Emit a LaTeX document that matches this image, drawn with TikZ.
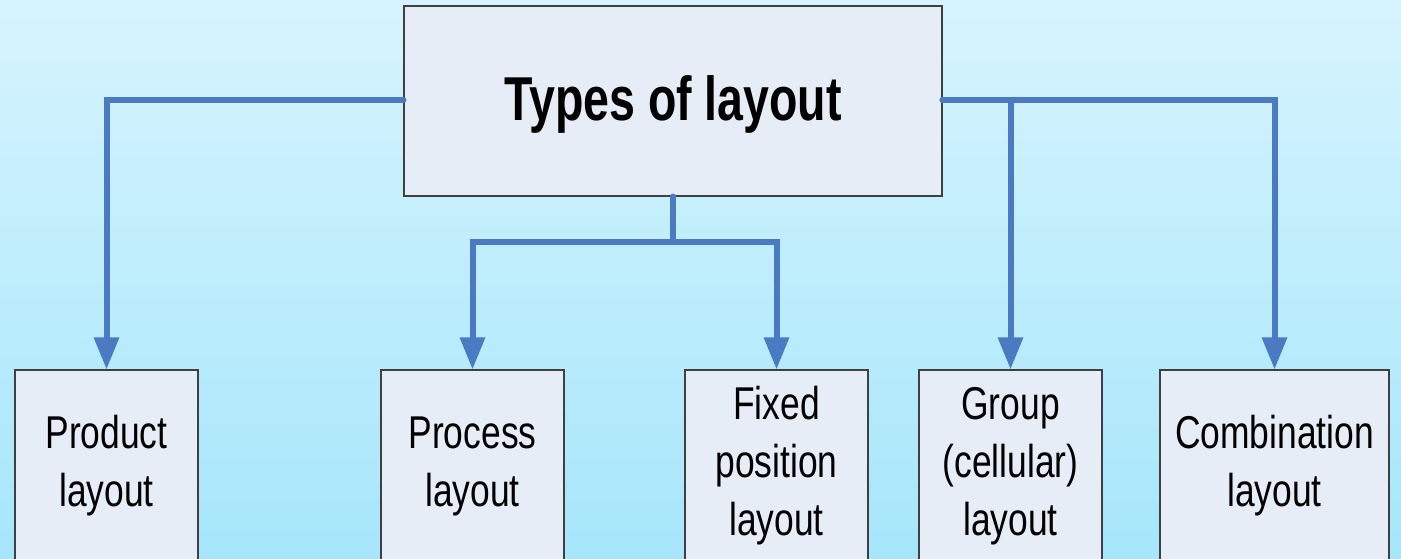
\documentclass[tikz,border=0pt]{standalone}
\usepackage{fontspec}
\usetikzlibrary{arrows.meta}
\newfontfamily\boxfont[FakeStretch=0.77]{Liberation Sans}
\newfontfamily\headfont[FakeStretch=0.75]{Liberation Sans Bold}
\definecolor{bgtop}{RGB}{214,244,253}
\definecolor{bgbot}{RGB}{166,230,251}
\definecolor{boxfill}{RGB}{231,237,247}
\definecolor{boxline}{RGB}{64,64,64}
\definecolor{linkblue}{RGB}{74,122,194}
\tikzset{
  box/.style={draw=boxline, line width=0.8pt, fill=boxfill, align=center,
    inner sep=0pt, minimum height=144pt,
    font=\boxfont\fontsize{34.5pt}{43.5pt}\selectfont},
  headbox/.style={draw=boxline, line width=0.8pt, fill=boxfill, align=center,
    inner sep=0pt, minimum width=403.5pt, minimum height=142.5pt,
    text height=38.5pt, text depth=9.5pt,
    font=\headfont\fontsize{46.5pt}{50pt}\selectfont},
  link/.style={draw=linkblue, line width=4.5pt, line cap=round,
    -{Triangle[width=18pt,length=24pt]}},
  bar/.style={draw=linkblue, line width=4.5pt, line cap=round}
}
\begin{document}
\begin{tikzpicture}[x=0.75pt, y=-0.75pt]
  \useasboundingbox (0,0) rectangle (1401,558);
  \clip (0,0) rectangle (1401,558);
  \shade[top color=bgtop, bottom color=bgbot] (0,0) rectangle (1401,558);

  % root
  \node[headbox] (root) at (673,101) {Types of layout};

  % leaves (they run past the lower edge)
  \node[box, minimum width=137.25pt] (prod)  at (106.5,466) {Product\\layout};
  \node[box, minimum width=137.25pt] (proc)  at (472.5,466) {Process\\layout};
  \node[box, minimum width=137.25pt] (fixed) at (776.5,466) {Fixed\\position\\layout};
  \node[box, minimum width=137.25pt] (group) at (1010.5,466) {Group\\(cellular)\\layout};
  \node[box, minimum width=171.75pt] (comb)  at (1274.5,466) {Combination\\layout};

  \coordinate (split) at (673,242);

  % connectors
  \draw[link] ([yshift=0.75pt]root.west) -| (prod.north);
  \draw[bar] (root.south) -- (split);
  \draw[link] (split) -| (proc.north);
  \draw[link] (split) -| (fixed.north);
  \draw[link] ([yshift=0.75pt]root.east) -| (group.north);
  \draw[link] ([yshift=0.75pt]root.east) -| (comb.north);
\end{tikzpicture}
\end{document}
